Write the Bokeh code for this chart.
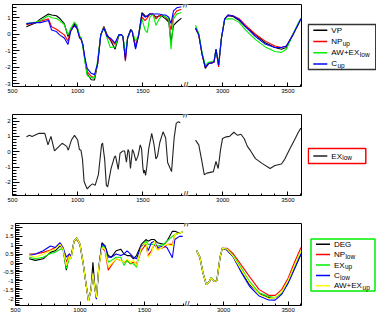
from bokeh.plotting import figure
from bokeh.models import Range1d, FixedTicker, Label, CustomJSTickFormatter
from bokeh.layouts import column, row
from bokeh.embed import file_html
from bokeh.resources import INLINE
from bokeh.core.properties import value

FONT = "Liberation Sans"
GAP = 887          # wavenumbers removed by the broken axis
X_START, X_END = 500, 3604
BREAK_WN = 1828
LW = 1.1

X_MAJOR = [500, 1000, 1500, 3000, 3500]
X_MINOR = [600, 700, 800, 900, 1100, 1200, 1300, 1400, 1600, 1700, 1800,
           2800, 2900, 3100, 3200, 3300, 3400, 3600]

# ---------------- top panel ----------------
TOP_WN_LOW = [606, 679, 715, 776, 800, 837, 861, 897, 926, 946, 975, 995, 1015, 1025, 1039,
              1056, 1073, 1104, 1129, 1153, 1177, 1201, 1226, 1250, 1287, 1316, 1335, 1347,
              1366, 1383, 1407, 1419, 1444, 1468, 1493, 1517, 1534, 1553, 1577, 1601, 1626,
              1650, 1674, 1699, 1716, 1735, 1760, 1796]
VP_LOW = [0.45, 0.70, 0.93, 1.22, 1.16, 1.12, 0.97, 0.64, -0.14, 0.25, 0.64, 0.45, -0.14, -0.22,
          -0.62, -1.6, -2.4, -2.76, -2.78, -1.78, -0.04, 0.47, -0.04, -0.33, -0.91, -0.10, -0.02,
          -0.14, -1.35, -0.23, 0.30, 0.16, -0.81, -0.04, 1.31, 1.12, 1.05, 1.22, 1.22, 1.03, 1.12,
          1.08, 0.93, 0.74, -0.52, 0.54, 0.74, 0.97]
NPUP_LOW = [0.58, 0.70, 0.78, 0.93, 0.45, 0.30, 0.16, -0.04, -0.42, 0.25, 0.54, 0.35, -0.23, -0.28,
            -0.62, -1.55, -2.27, -2.56, -2.62, -1.78, -0.04, 0.42, -0.14, -0.33, -0.62, -0.04, -0.02,
            -0.14, -1.64, -0.23, 0.25, 0.16, -0.72, -0.04, 1.03, 0.83, 0.97, 1.22, 1.22, 0.93, 1.12,
            1.16, 1.03, 0.83, 0.25, 1.12, 1.41, 1.51]
AWEXLOW_LOW = [0.64, 0.74, 0.83, 1.12, 1.0, 0.95, 0.83, 0.58, -0.04, 0.35, 0.74, 0.54, -0.14, -0.22,
               -0.72, -1.7, -2.5, -2.65, -2.65, -1.6, -0.04, 0.40, -0.23, -0.81, -0.77, -0.04, -0.02,
               -0.14, -1.2, -0.23, 0.25, 0.16, -0.42, -0.04, 0.93, 0.25, 0.10, 1.03, 1.22, 0.54, 0.93,
               1.16, 1.03, 0.93, -0.91, 0.93, 1.22, 1.31]
CUP_LOW = [0.64, 0.70, 0.70, 0.83, 0.25, 0.16, -0.04, -0.23, -0.62, 0.16, 0.54, 0.35, -0.23, -0.28,
           -0.62, -1.45, -2.07, -2.37, -2.45, -1.78, -0.04, 0.38, -0.14, -0.23, -0.52, -0.04, -0.02,
           -0.14, -1.55, -0.23, 0.25, 0.16, -0.91, -0.04, 1.22, 1.03, 1.12, 1.22, 1.22, 1.22, 1.22,
           1.16, 1.16, 1.03, 0.64, 1.41, 1.60, 1.66]

TOP_WN_HIGH = [2791, 2816, 2841, 2866, 2891, 2916, 2933, 2948, 2968, 2990, 3015, 3040, 3077, 3127,
               3176, 3251, 3326, 3400, 3450, 3488, 3538, 3575, 3600]
VP_HIGH = [0.35, -0.04, -1.2, -2.07, -1.78, -1.74, -1.69, -0.91, -1.88, -0.23, 0.93, 1.12, 1.08,
           0.83, 0.45, -0.04, -0.52, -0.81, -0.91, -0.81, -0.04, 0.54, 0.93]
NPUP_HIGH = [0.35, -0.04, -1.2, -1.98, -1.78, -1.74, -1.69, -0.91, -1.98, -0.23, 0.93, 1.16, 1.12,
             0.93, 0.54, 0.0, -0.42, -0.72, -0.81, -0.72, -0.04, 0.54, 0.93]
AWEXLOW_HIGH = [0.54, 0.05, -1.1, -1.88, -1.7, -1.65, -1.6, -0.91, -1.85, -0.23, 0.90, 0.93, 0.93,
                0.70, 0.25, -0.33, -0.77, -1.05, -1.1, -0.91, 0.0, 0.6, 0.97]
CUP_HIGH = [0.39, -0.04, -1.2, -2.0, -1.78, -1.74, -1.69, -0.91, -1.88, -0.23, 0.93, 1.16, 1.12,
            0.88, 0.45, -0.14, -0.60, -0.81, -0.81, -0.72, -0.04, 0.54, 0.93]

TOP_NAMES = ["VP", "NP", "AW+EX", "C"]
TOP_SUBS = ["", "up", "low", "up"]
TOP_COLORS = ["#000000", "#ff0000", "#00ee00", "#0000ff"]

# ---------------- middle panel ----------------
MID_WN_LOW = [607, 631, 650, 704, 748, 772, 795, 822, 857, 881, 916, 928, 952, 976, 1000, 1013,
              1025, 1037, 1049, 1073, 1098, 1115, 1134, 1159, 1183, 1191, 1207, 1220, 1230, 1256,
              1281, 1290, 1311, 1325, 1347, 1360, 1374, 1386, 1394, 1405, 1420, 1430, 1447, 1463,
              1480, 1490, 1500, 1506, 1513, 1521, 1530, 1545, 1568, 1585, 1600, 1612, 1630, 1655,
              1675, 1690, 1705, 1720, 1740, 1756, 1770, 1787]
EXLOW_LOW = [0.97, 1.07, 1.0, 1.2, 1.2, 0.45, 1.0, 0.05, 0.35, 0.55, 0.35, 0.1, 0.76, 1.07, 0.76,
             0.15, 0.1, -0.5, -1.95, -2.43, -2.2, -2.1, -2.2, -1.5, 0.45, 0.56, -0.5, -2.2, -2.3,
             -1.1, -0.37, -0.27, -1.15, -0.1, 0.05, 0.05, -0.68, 0.14, 0.0, -1.1, 0.14, -0.05,
             -0.6, -0.27, 0.45, 0.2, -1.0, -1.4, -1.2, -1.55, -1.0, 0.2, 1.2, 0.5, -0.47, -0.3,
             0.6, 1.3, 0.9, -0.7, -1.0, -1.3, 0.9, 1.85, 1.95, 1.9]
MID_WN_HIGH = [2791, 2816, 2841, 2858, 2878, 2903, 2928, 2948, 2965, 2983, 2998, 3027, 3052, 3085,
               3114, 3139, 3164, 3189, 3214, 3251, 3301, 3363, 3400, 3450, 3475, 3512, 3550, 3580,
               3599]
EXLOW_HIGH = [0.76, 0.45, -0.68, -1.5, -1.4, -1.35, -1.3, -0.64, -1.1, 0.14, 0.86, 0.97, 1.0, 1.27,
              1.07, 1.14, 0.86, 0.35, 0.05, -0.45, -0.76, -1.1, -0.9, -0.8, -0.5, 0.14, 0.76, 1.27,
              1.54]

# ---------------- bottom panel ----------------
BOT_WN_LOW = [606, 655, 715, 771, 808, 845, 869, 894, 918, 930, 954, 975, 1000, 1025, 1049, 1066,
              1085, 1100, 1117, 1127, 1146, 1170, 1194, 1219, 1243, 1280, 1316, 1341, 1365, 1390,
              1414, 1438, 1475, 1511, 1528, 1553, 1577, 1601, 1650, 1674, 1716, 1735, 1771, 1796]
DEG_LOW = [0.24, 0.15, 0.24, 0.60, 0.69, 0.96, 0.78, -0.40, 0.51, 0.24, 1.23, 1.41, 1.05, -0.04,
           -1.30, -2.12, -1.49, 0.05, -1.49, -1.94, -0.22, 1.14, 0.96, 0.42, 0.33, 0.69, 0.78, 0.51,
           0.42, 0.42, 0.24, 0.42, 1.05, 1.32, 1.23, 1.32, 1.32, 1.14, 1.05, 1.23, 1.78, 1.78, 1.69,
           1.74]
NPLOW_LOW = [0.51, 0.51, 0.60, 0.73, 0.87, 1.09, 0.78, 0.05, 0.51, 0.33, 1.23, 1.32, 1.05, -0.04,
             -1.30, -2.12, -1.49, -0.58, -1.49, -1.94, -0.22, 0.87, 0.69, -0.40, -0.13, 0.24, 0.15,
             0.05, 0.15, -0.04, 0.05, -0.04, 0.69, 1.05, 0.42, 0.69, 1.05, 0.78, 0.87, 1.05, 1.05,
             1.59, 1.69, 1.74]
EXUP_LOW = [0.33, 0.24, 0.33, 0.54, 0.60, 0.78, 0.78, -0.31, 0.33, 0.24, 1.23, 1.41, 1.05, -0.04,
            -1.30, -2.03, -1.49, -0.67, -1.49, -1.94, -0.22, 0.96, 0.87, 0.05, 0.15, 0.33, 0.33,
            -0.13, 0.15, -0.04, -0.04, -0.22, 0.87, 1.23, 1.05, 1.05, 1.05, 0.96, 1.05, 1.23, 1.50,
            1.59, 1.69, 1.74]
CLOW_LOW = [0.42, 0.51, 0.69, 0.96, 0.87, 1.14, 0.87, 0.33, 0.51, 0.33, 1.23, 1.41, 1.05, -0.04,
            -1.30, -2.12, -1.49, -0.58, -1.49, -2.03, -0.22, 1.05, 0.96, 0.33, 0.33, 0.51, 0.42,
            0.51, 0.69, 0.51, 0.33, 0.24, 0.96, 1.05, 0.69, 1.14, 1.23, 0.87, 0.96, 0.87, 0.30,
            1.32, 1.50, 1.50]
AWEXUP_LOW = [0.42, 0.33, 0.51, 0.69, 0.78, 1.05, 0.78, -0.13, 0.42, 0.24, 1.23, 1.41, 1.05, -0.04,
              -1.30, -2.12, -1.49, -0.58, -1.49, -1.94, -0.22, 0.87, 0.78, -0.22, -0.04, 0.24, 0.15,
              0.05, 0.24, 0.05, 0.15, -0.13, 0.87, 1.14, 0.33, 0.51, 1.23, 0.69, 0.96, 1.05, 0.96,
              1.59, 1.69, 1.74]

BOT_WN_HIGH = [2791, 2816, 2841, 2866, 2891, 2903, 2928, 2948, 2973, 2990, 3027, 3077, 3139, 3201,
               3276, 3350, 3400, 3450, 3500, 3550, 3600]
DEG_HIGH = [0.69, 0.33, -0.58, -1.21, -1.03, -0.82, -1.03, -0.98, 0.33, 0.83, 0.73, 0.33, -0.49,
            -1.21, -1.70, -1.94, -1.94, -1.70, -1.12, -0.31, 0.51]
NPLOW_HIGH = [0.69, 0.33, -0.58, -1.21, -1.03, -0.82, -1.03, -0.98, 0.33, 0.83, 0.83, 0.51, -0.13,
              -0.76, -1.49, -1.81, -1.81, -1.49, -0.85, 0.05, 0.87]
EXUP_HIGH = [0.72, 0.35, -0.55, -1.18, -1.0, -0.80, -1.0, -0.95, 0.35, 0.85, 0.78, 0.42, -0.31,
             -1.03, -1.67, -1.88, -1.94, -1.70, -1.03, -0.22, 0.69]
CLOW_HIGH = [0.69, 0.33, -0.58, -1.21, -1.03, -0.82, -1.03, -0.98, 0.33, 0.83, 0.73, 0.33, -0.54,
             -1.30, -1.85, -2.07, -2.08, -1.76, -1.12, -0.31, 0.51]
AWEXUP_HIGH = [0.69, 0.33, -0.58, -1.21, -1.03, -0.82, -1.03, -0.98, 0.33, 0.83, 0.78, 0.36, -0.40,
               -1.12, -1.76, -1.99, -1.94, -1.63, -0.98, -0.13, 0.69]

BOT_NAMES = ["DEG", "NP", "EX", "C", "AW+EX"]
BOT_SUBS = ["", "low", "up", "low", "up"]
BOT_COLORS = ["#000000", "#ff0000", "#00ee00", "#0000ff", "#ffff00"]

TOP_Y = (-3.17, 1.8)
TOP_Y_MAJOR = [-3, -2, -1, 0, 1]
MID_Y = (-2.86, 2.43)
MID_Y_MAJOR = [-2, -1, 0, 1, 2]
BOT_Y = (-2.38, 2.22)
BOT_Y_MAJOR = [-2, -1.5, -1, -0.5, 0, 0.5, 1, 1.5, 2]

LEG_W = 69


def tx(ws):
    return [w - GAP if w > 2000 else w for w in ws]


def minor(lo, hi, step):
    n = int(round((hi - lo) / step))
    return [round(lo + i * step, 3) for i in range(n + 1)]


def panel(h, top, bottom, yr, ymajor, yminor):
    p = figure(width=307, height=h, x_range=Range1d(X_START, X_END - GAP),
               y_range=Range1d(*yr), output_backend="svg", toolbar_location=None,
               min_border_left=12, min_border_right=6, min_border_top=top,
               min_border_bottom=bottom)
    p.grid.visible = False
    p.outline_line_color = "black"
    p.outline_line_width = 1
    p.outline_line_alpha = 1
    xa = p.xaxis[0]
    ya = p.yaxis[0]
    xa.ticker = FixedTicker(ticks=tx(X_MAJOR), minor_ticks=tx(X_MINOR))
    xa.formatter = CustomJSTickFormatter(
        code="return String(tick > %d ? tick + %d : tick);" % (BREAK_WN, GAP))
    ya.ticker = FixedTicker(ticks=ymajor, minor_ticks=yminor)
    ya.formatter = CustomJSTickFormatter(code="return String(tick);")
    for ax in (xa, ya):
        ax.axis_line_color = None
        ax.major_tick_out = 0
        ax.minor_tick_out = 0
        ax.major_tick_line_color = "black"
        ax.minor_tick_line_color = "black"
        ax.major_label_text_font = FONT
        ax.major_label_text_font_size = "6px"
        ax.major_label_text_color = "black"
        ax.major_label_standoff = 2
    xa.major_tick_in = 4
    xa.minor_tick_in = 2
    ya.major_tick_in = 7
    ya.minor_tick_in = 4
    for yv in yr:
        p.add_layout(Label(x=BREAK_WN, y=yv, text="//", text_align="center",
                           text_baseline="middle", text_font="DejaVu Sans",
                           text_font_size="8px", text_color="black",
                           background_fill_color="white"))
    return p


CHAR_W = {"V": 0.667, "P": 0.667, "N": 0.722, "A": 0.667, "W": 0.944, "+": 0.584,
          "E": 0.667, "X": 0.667, "C": 0.722, "D": 0.722, "G": 0.778}


def legend(names, subs, colors, border, h, top, bottom, box, size="8px"):
    # box = (left, top, width, height) in pixels relative to the frame's top-left
    fh = h - top - bottom
    bl, bt, bw, bh = box
    lp = figure(width=LEG_W, height=h, x_range=Range1d(0, LEG_W), y_range=Range1d(fh, 0),
                x_axis_location=None, y_axis_location=None, output_backend="svg",
                toolbar_location=None, min_border_left=0, min_border_right=0,
                min_border_top=top, min_border_bottom=bottom)
    lp.grid.visible = False
    lp.outline_line_color = None
    lp.quad(left=[bl], right=[bl + bw], top=[bt], bottom=[bt + bh], fill_color="white",
            line_color=border, line_width=1.5)
    n = len(names)
    ys = [bt + (i + 0.5) * bh / n for i in range(n)]
    lp.segment(x0=[bl + 5] * n, x1=[bl + 19] * n, y0=ys, y1=ys, line_color=colors, line_width=1.5)
    lp.text(x=[bl + 23] * n, y=ys, text=names, text_font=value(FONT), text_font_size=size,
            text_baseline="middle", text_color="black")
    fs = float(size.replace("px", ""))
    sx = [bl + 23 + sum(CHAR_W.get(c, 0.6) for c in nm) * fs + 0.3 for nm in names]
    lp.text(x=sx, y=[y + 1.8 for y in ys], text=subs, text_font=value(FONT),
            text_font_size="6.5px", text_baseline="middle", text_color="black")
    return lp


# top
p1 = panel(108, 4, 22, TOP_Y, TOP_Y_MAJOR, minor(-3.0, 1.8, 0.2))
for lv, hv, c in zip([VP_LOW, NPUP_LOW, AWEXLOW_LOW, CUP_LOW],
                     [VP_HIGH, NPUP_HIGH, AWEXLOW_HIGH, CUP_HIGH], TOP_COLORS):
    p1.line(tx(TOP_WN_LOW), lv, line_color=c, line_width=LW)
    p1.line(tx(TOP_WN_HIGH), hv, line_color=c, line_width=LW)
l1 = legend(TOP_NAMES, TOP_SUBS, TOP_COLORS, "#333333", 108, 4, 22, (0.8, 20, 67.5, 45))

# middle
p2 = panel(110, 6, 23, MID_Y, MID_Y_MAJOR, minor(-2.8, 2.4, 0.2))
p2.line(tx(MID_WN_LOW), EXLOW_LOW, line_color="#222222", line_width=LW)
p2.line(tx(MID_WN_HIGH), EXLOW_HIGH, line_color="#222222", line_width=LW)
l2 = legend(["EX"], ["low"], ["#222222"], "#ff0000", 110, 6, 23, (0.8, 34, 57.5, 15))

# bottom
p3 = panel(98, 5, 11, BOT_Y, BOT_Y_MAJOR, minor(-2.3, 2.2, 0.1))
for lv, hv, c in zip([DEG_LOW, NPLOW_LOW, EXUP_LOW, CLOW_LOW, AWEXUP_LOW],
                     [DEG_HIGH, NPLOW_HIGH, EXUP_HIGH, CLOW_HIGH, AWEXUP_HIGH], BOT_COLORS):
    p3.line(tx(BOT_WN_LOW), lv, line_color=c, line_width=LW)
    p3.line(tx(BOT_WN_HIGH), hv, line_color=c, line_width=LW)
l3 = legend(BOT_NAMES, BOT_SUBS, BOT_COLORS, "#00ee00", 98, 5, 11, (3.5, 15.5, 64, 52))

p = column(row(p1, l1), row(p2, l2), row(p3, l3))
open("out.html", "w").write(file_html(p, INLINE))
